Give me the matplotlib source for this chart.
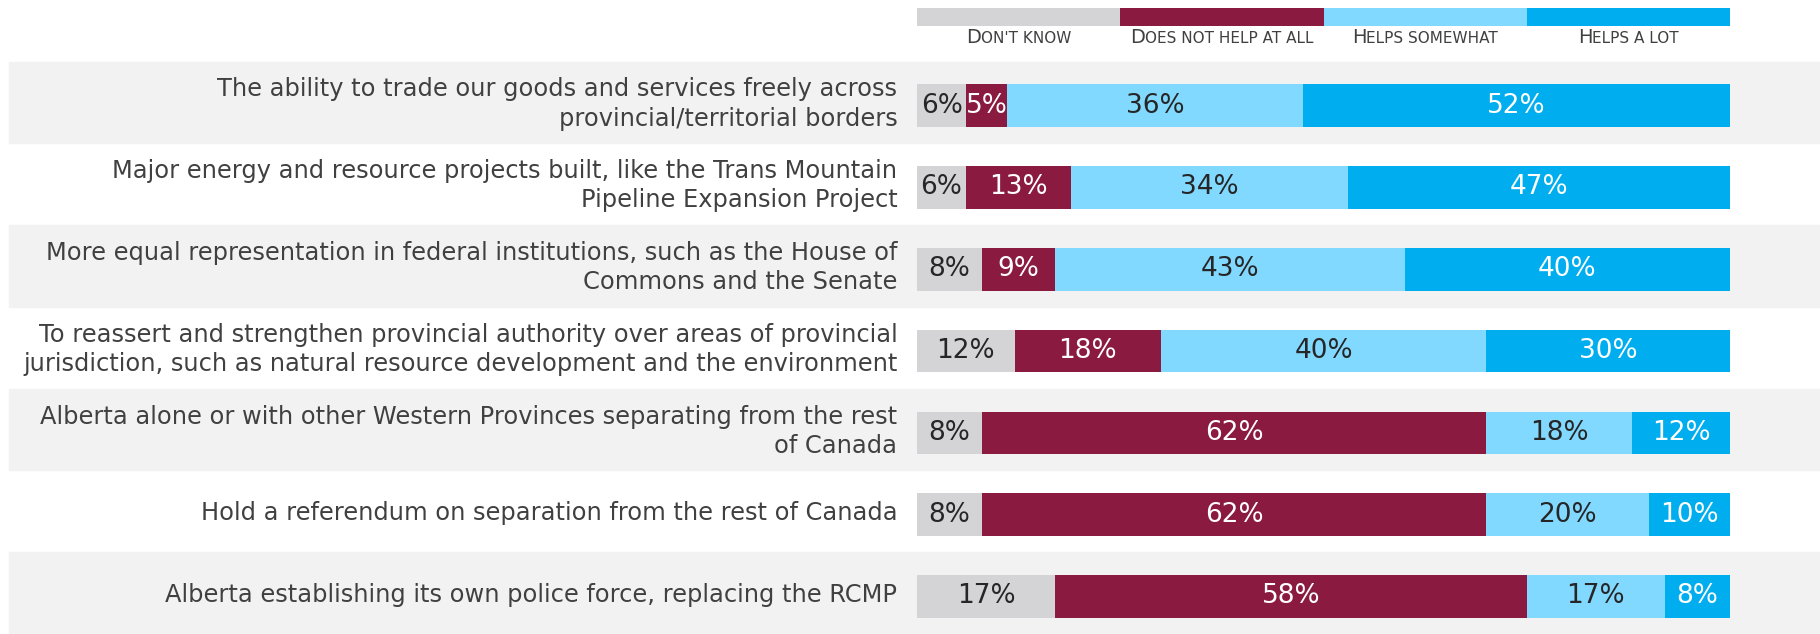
import matplotlib.pyplot as plt
import numpy as np

# survey items, top to bottom
items = [
    "The ability to trade our goods and services freely across\nprovincial/territorial borders",
    "Major energy and resource projects built, like the Trans Mountain\nPipeline Expansion Project",
    "More equal representation in federal institutions, such as the House of\nCommons and the Senate",
    "To reassert and strengthen provincial authority over areas of provincial\njurisdiction, such as natural resource development and the environment",
    "Alberta alone or with other Western Provinces separating from the rest\nof Canada",
    "Hold a referendum on separation from the rest of Canada",
    "Alberta establishing its own police force, replacing the RCMP",
]
categories = ["Don't know", "Does not help at all", "Helps somewhat", "Helps a lot"]
dont_know = [6, 6, 8, 12, 8, 8, 17]
not_help = [5, 13, 9, 18, 62, 62, 58]
somewhat = [36, 34, 43, 40, 18, 20, 17]
a_lot = [52, 47, 40, 30, 12, 10, 8]

colors = ["#d4d4d6", "#8b1a40", "#82d9ff", "#00aeef"]
text_colors = ["#262626", "white", "#262626", "white"]

series = np.array([dont_know, not_help, somewhat, a_lot], dtype=float)
shares = series / series.sum(axis=0) * 100  # bars fill the full width

fig = plt.figure(figsize=(18.2, 6.34), dpi=100)
ax = fig.add_axes([0, 0, 1, 1])

# 0..100 maps to pixels 917..1730
px = 8.13
ax.set_xlim(-917 / px, (1820 - 917) / px)
ax.set_ylim(6.5, -1.252)
ax.axis("off")

y = np.arange(len(items))
for i in y:
    if i % 2 == 0:
        ax.axhspan(i - 0.5, i + 0.5, xmin=9 / 1820, xmax=1, color="#f2f2f2", zorder=0)

yb = y + 0.04
left = np.zeros(len(items))
for k in range(4):
    ax.barh(yb, shares[k], left=left, height=0.52, color=colors[k], zorder=2)
    for i in y:
        ax.text(left[i] + shares[k][i] / 2, yb[i], f"{series[k][i]:.0f}%", ha="center",
                va="center", fontsize=19, color=text_colors[k], zorder=3)
    left += shares[k]

for i in y:
    ax.text(-2.4, i + 0.02, items[i], ha="right", va="center", fontsize=17.4,
            color="#404040", linespacing=1.27)

# legend strip on top
ax.barh([-1.047] * 4, [25] * 4, left=[0, 25, 50, 75], height=0.214, color=colors)
fig.canvas.draw()
rend = fig.canvas.get_renderer()
for k, name in enumerate(categories):
    # small caps: big first letter + smaller uppercase rest, centred together
    first = ax.text(0, -0.73, name[0], fontsize=14, color="#404040",
                    ha="left", va="baseline")
    rest = ax.text(0, -0.73, name[1:].upper(), fontsize=11, color="#404040",
                   ha="left", va="baseline")
    w1 = first.get_window_extent(rend).width / px
    w2 = rest.get_window_extent(rend).width / px
    x0 = 25 * k + 12.5 - (w1 + w2) / 2
    first.set_x(x0)
    rest.set_x(x0 + w1)

fig.savefig("out.png", dpi=100)
